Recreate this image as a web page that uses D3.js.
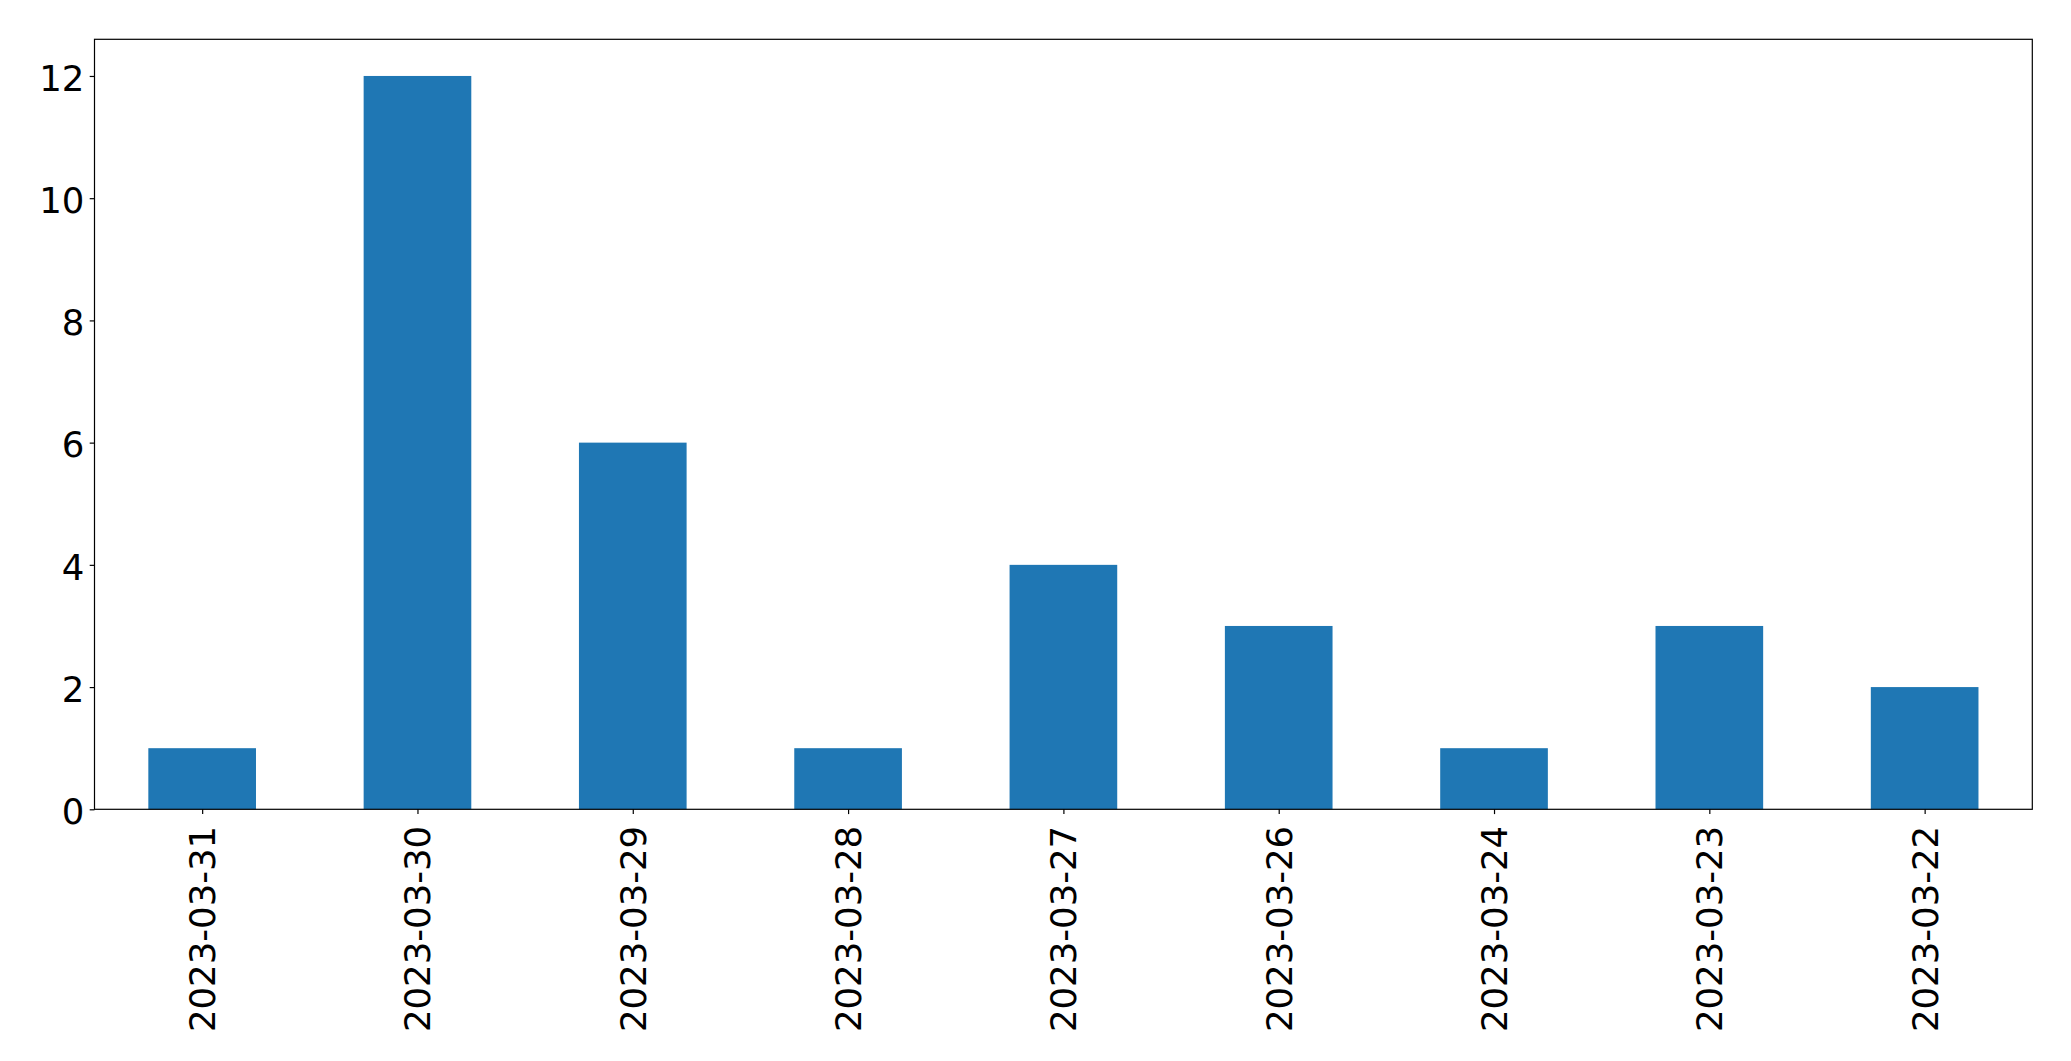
<!DOCTYPE html>
<html>
<head>
<meta charset="utf-8">
<script src="https://cdn.jsdelivr.net/npm/d3@7"></script>
<style>
  html, body { margin: 0; padding: 0; background: #fff; }
  svg { display: block; }
  text { font-family: "DejaVu Sans", sans-serif; }
</style>
</head>
<body>
<script>
const categories = ["2023-03-31","2023-03-30","2023-03-29","2023-03-28","2023-03-27","2023-03-26","2023-03-24","2023-03-23","2023-03-22"];
const values = [1, 12, 6, 1, 4, 3, 1, 3, 2];
const yTicks = [0, 2, 4, 6, 8, 10, 12];

(function () {
const W = 2071, H = 1061;
const mLeft = 94.5, mRight = 2032.3, mTop = 39.3, mBottom = 809.3;
const fontSize = 35.5;
const tickLen = 4.8;

const svg = d3.select("body").append("svg").attr("width", W).attr("height", H);

const x = d3.scaleLinear().domain([-0.5, categories.length - 0.5]).range([mLeft, mRight]);
const y = d3.scaleLinear().domain([0, 12.6]).range([mBottom, mTop]);
const barW = x(0.25) - x(-0.25);

svg.append("g").selectAll("rect").data(values).join("rect")
  .attr("x", (d, i) => x(i) - barW / 2)
  .attr("y", d => y(d))
  .attr("width", barW)
  .attr("height", d => y(0) - y(d))
  .attr("fill", "#1f77b4");

// frame
svg.append("rect").attr("x", mLeft).attr("y", mTop)
  .attr("width", mRight - mLeft).attr("height", mBottom - mTop)
  .attr("fill", "none").attr("stroke", "#000").attr("stroke-width", 1.2);

// y axis
const yAxis = d3.axisLeft(y).tickValues(yTicks).tickSize(tickLen).tickPadding(5.3).tickFormat(d3.format("d"));
const gy = svg.append("g").attr("transform", `translate(${mLeft},0)`).call(yAxis);
gy.select(".domain").remove();
gy.selectAll("line").attr("stroke", "#000").attr("stroke-width", 1.2);
gy.selectAll("text").attr("font-size", fontSize).attr("font-family", "DejaVu Sans, sans-serif").attr("fill", "#000")
  .attr("dy", "0.40em");

// x axis
const xAxis = d3.axisBottom(x).tickValues(d3.range(categories.length)).tickSize(tickLen).tickFormat(i => categories[i]);
const gx = svg.append("g").attr("transform", `translate(0,${mBottom})`).call(xAxis);
gx.select(".domain").remove();
gx.selectAll("line").attr("stroke", "#000").attr("stroke-width", 1.2);
gx.selectAll("text")
  .attr("font-size", fontSize).attr("font-family", "DejaVu Sans, sans-serif").attr("fill", "#000")
  .attr("transform", "rotate(-90)")
  .attr("text-anchor", "end")
  .attr("x", -16.5)
  .attr("y", 0)
  .attr("dy", "0.35em");
})();
</script>
</body>
</html>
